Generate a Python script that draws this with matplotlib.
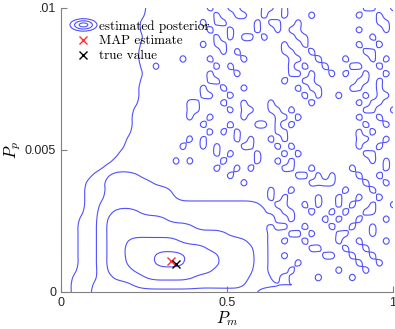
import numpy as np
import matplotlib
matplotlib.use('Agg')
import matplotlib.pyplot as plt
from matplotlib.lines import Line2D
from matplotlib.patches import Ellipse
from matplotlib.legend_handler import HandlerBase

plt.rcParams['mathtext.fontset'] = 'cm'

# posterior level map (top row = Pp .01, bottom row = Pp 0)
# digits: 0 below outer level ... 5 inside innermost contour
# '+': sampling-noise bump on the flat outer plateau (level 1)
grid_rows = [
    "0000000000" "0001111111" "11+11++111" "++1+111111" "11111++11+",
    "0000000000" "0001111111" "111+11++11" "+11+111+11" "1111+11+11",
    "0000000000" "0011111111" "1+1++1111+" "1++11+1111" "1111111++1",
    "0000000000" "0011111111" "11+11+111+" "11+1++1111" "1111+111+1",
    "0000000000" "0001111111" "111+1+1++1" "+1111++111" "111111+111",
    "0000000000" "0011111111" "1+1++11111" "111+11+111" "1111+11+11",
    "0000000000" "0011111111" "1111+1+111" "111++11+11" "11111++111",
    "0000000000" "00111111+1" "11+1111+11" "1111++11+1" "11+111+1+1",
    "0000000000" "0011+11111" "111+1+1111" "1111+1+11+" "111++11+11",
    "0000000000" "0001111111" "11+111+111" "1111++1+11" "+1+11+11+1",
    "0000000000" "0011111111" "11++111111" "111+11++11" "1111++1+11",
    "0000000000" "0011111111" "1+11+11+11" "11111+1++1" "111++11+11",
    "0000000000" "0011111111" "1++11+1111" "111111+1+1" "1+111+1++1",
    "0000000000" "001111111+" "+111+11+11" "1+11111+11" "1111+1++11",
    "0000000000" "011111111+" "+1111+1++1" "1++1+11111" "11111++11+",
    "0000000000" "011111111+" "11+1111+11" "11++1+1111" "1111+11+11",
    "0000000000" "0111111111" "1+111+111+" "+1+1+11111" "11111+11+1",
    "0000000000" "0111111111" "11+1+1+111" "11++111111" "1111+1+111",
    "0000000000" "111111111+" "1+1111+1+1" "1+1+111111" "1111++11+1",
    "0000000000" "11111111+1" "1+1+111++1" "11+1+11111" "1111+11+11",
    "0000000001" "1111111111" "111+1+111+" "111+1+1111" "11111++111",
    "0000000011" "1111111+1+" "1111+1111+" "11+1+11111" "111111+1+1",
    "0000000111" "1111111111" "111+11+1+1" "111++11+11" "111+1111+1",
    "0000011222" "2211111111" "11111+1111" "11111++1+1" "+111+11+11",
    "0000111222" "2222111111" "1111111+11" "1111111+++" "+1111+11+1",
    "0000111222" "2222222111" "1111111111" "1+11+11111" "11+111+111",
    "0000111222" "2222222111" "1111111111" "1+1+1111+1" "1+11+11+11",
    "0000112222" "2222222222" "2222222222" "11++11+1+1" "1+1+11+11+",
    "0000112233" "3322222222" "2222222222" "211++11+11" "+1+11++111",
    "0001112333" "3333332222" "2222222222" "2+11+1111+" "1+11+111+1",
    "0001112333" "3333333333" "2222222222" "21++11+111" "+11+11+111",
    "0001112333" "3333333333" "3333322222" "2111++1+11" "1++111+111",
    "0001112333" "4444444433" "3333333322" "211+11+111" "1+11+111+1",
    "0001112333" "4444444444" "4433333332" "2111111++1" "11+11+1111",
    "0001112333" "4444555554" "4444333332" "211+11111+" "+11+11+111",
    "0001112333" "4444555554" "4444333332" "21111+1111" "1111+11+11",
    "0001112333" "3444444444" "4443333332" "2111+11111" "1+111+1111",
    "0011112233" "3334444444" "3333333322" "211+1111+1" "111+111111",
    "0011122222" "2333333333" "3333333322" "2222222111" "1111111111",
    "0011122222" "2222222222" "2222222221" "1111111111" "1111111111",
]

pm_grid = np.linspace(0, 1, 50)
pp_grid = np.linspace(0, 0.01, 40)

map_est = (0.331, 0.00110)
true_val = (0.346, 0.00099)

xticks = [0, 0.5, 1]
xticklabels = ['0', '0.5', '1']
yticks = [0, 0.005, 0.01]
yticklabels = ['0', '0.005', '.01']

levels = np.array([[1 if ch == '+' else int(ch) for ch in row]
                   for row in grid_rows], dtype=float)[::-1]
bumps = np.array([[1 if ch == '+' else 0 for ch in row]
                  for row in grid_rows], dtype=float)[::-1]


def smooth(a, kx, ky):
    kx = np.array(kx, float) / sum(kx)
    ky = np.array(ky, float) / sum(ky)
    px, py = len(kx) // 2, len(ky) // 2
    b = np.pad(a, ((0, 0), (px, px)), mode='edge')
    a = sum(w * b[:, i:i + a.shape[1]] for i, w in enumerate(kx))
    b = np.pad(a, ((py, py), (0, 0)), mode='edge')
    return sum(w * b[i:i + a.shape[0], :] for i, w in enumerate(ky))


def keys(t):
    t = abs(t)
    if t <= 1:
        return 1.5 * t**3 - 2.5 * t**2 + 1
    if t < 2:
        return -0.5 * t**3 + 2.5 * t**2 - 4 * t + 2
    return 0.0


def cubic_weights(n_in, n_out):
    W = np.zeros((n_out, n_in))
    for i, u in enumerate(np.linspace(0, n_in - 1, n_out)):
        k0 = int(np.floor(u))
        for k in range(k0 - 1, k0 + 3):
            W[i, min(max(k, 0), n_in - 1)] += keys(u - k)
    return W


# nested levels are smoothed, noise bumps kept sharp, both resampled bicubic
Z = smooth(levels, [1, 4, 6, 4, 1], [1, 2, 1]) + 0.78 * bumps
nx, ny = 246, 196
Zf = cubic_weights(len(pp_grid), ny) @ Z @ cubic_weights(len(pm_grid), nx).T
xf = np.linspace(0, 1, nx)
yf = np.linspace(0, 0.01, ny)

blue = '#5050ff'

fig = plt.figure(figsize=(3.95, 3.29), dpi=100)
ax = fig.add_axes([61/395, 37/329, 332/395, 284/329])

ax.contour(xf, yf, Zf, levels=[0.5, 1.5, 2.5, 3.5, 4.5],
           colors=blue, linewidths=0.8)
ax.plot(*map_est, 'x', color='#ff3030', ms=6, mew=1.0)
ax.plot(*true_val, 'x', color='k', ms=6, mew=1.0)

ax.set_xlim(0, 1)
ax.set_ylim(0, 0.01)
ax.set_xticks(xticks)
ax.set_xticklabels(xticklabels)
ax.set_yticks(yticks)
ax.set_yticklabels(yticklabels)
for s in ['top', 'right']:
    ax.spines[s].set_visible(False)
for s in ['left', 'bottom']:
    ax.spines[s].set_color('#808080')
    ax.spines[s].set_linewidth(0.8)
ax.tick_params(direction='in', length=4, color='#808080', labelsize=9,
               labelcolor='#262626')
for lab in ax.get_xticklabels() + ax.get_yticklabels():
    lab.set_fontfamily('Liberation Sans')

ax.set_xlabel('$P_m$', fontsize=12, labelpad=0)
ax.set_ylabel('$P_p$', fontsize=12, labelpad=1)


class HandlerRings(HandlerBase):
    def create_artists(self, legend, orig_handle, xdescent, ydescent,
                       width, height, fontsize, trans):
        cx = width / 2 - xdescent
        cy = height / 2 - ydescent
        arts = []
        for f in (1.0, 0.66, 0.32):
            arts.append(Ellipse((cx, cy), width * f, height * f * 1.35,
                                fill=False, edgecolor=blue, lw=0.8,
                                transform=trans))
        return arts


rings = Line2D([], [], color=blue)
h_map = Line2D([], [], ls='none', marker='x', color='#ff3030', ms=6)
h_true = Line2D([], [], ls='none', marker='x', color='k', ms=6)
ax.legend([rings, h_map, h_true],
          ['estimated posterior', 'MAP estimate', 'true value'],
          handler_map={rings: HandlerRings()},
          loc='upper left', bbox_to_anchor=(0.027, 0.958),
          frameon=False, borderpad=0, borderaxespad=0,
          handlelength=2.05, handletextpad=0.15, labelspacing=0.2,
          prop={'family': 'cmr10', 'size': 9.5})

fig.savefig('out.png', dpi=100)
